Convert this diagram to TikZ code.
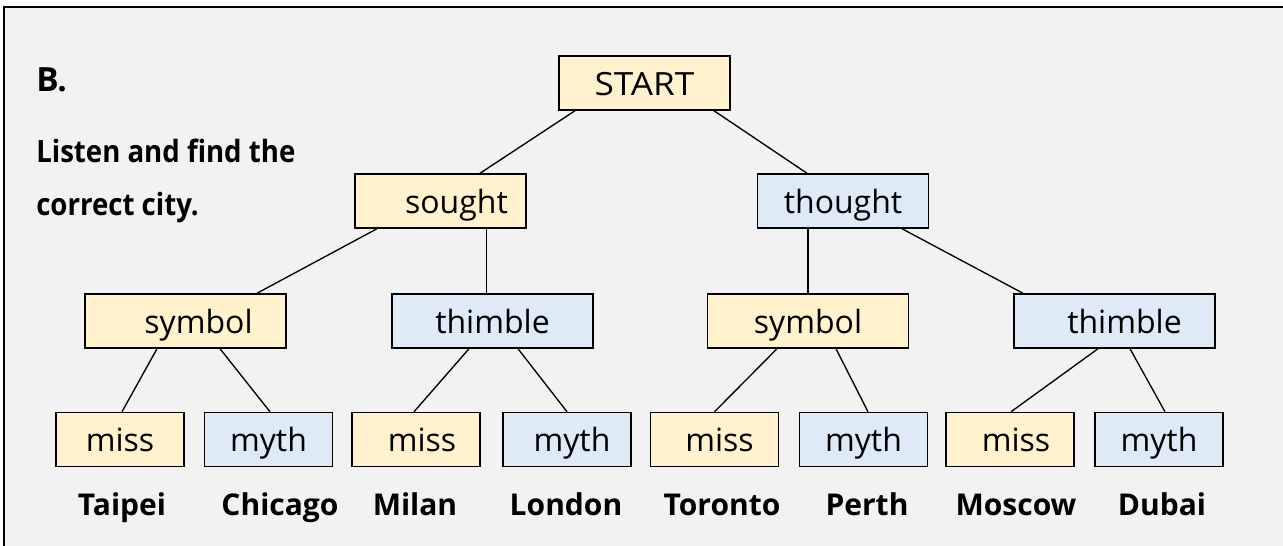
\documentclass[tikz,border=0pt]{standalone}
\usepackage{fontspec}
\setmainfont{Open Sans}
\newfontfamily\titlefont[FakeStretch=0.9]{Open Sans}
\usetikzlibrary{calc}
\definecolor{bg}{HTML}{F2F2F2}
\definecolor{yel}{HTML}{FFF2CC}
\definecolor{blu}{HTML}{DEEBF7}
\begin{document}
\begin{tikzpicture}[x=0.75pt,y=-0.75pt,
  box/.style={draw=black,line width=1.1pt,inner sep=0pt,minimum height=40.5pt,
    text height=20pt,text depth=2pt,font=\fontsize{24}{28}\selectfont},
  bigbox/.style={box,minimum width=128.25pt},
  midbox/.style={box,minimum width=150.75pt},
  leafbox/.style={box,minimum width=96pt},
  yb/.style={fill=yel}, bb/.style={fill=blu},
  city/.style={anchor=base,inner sep=0pt,font=\fontsize{22.5}{27}\selectfont\bfseries},
  title/.style={anchor=base west,inner sep=0pt,font=\fontsize{23}{27}\selectfont\titlefont\bfseries},
  link/.style={line width=1pt}]
\useasboundingbox (0,0) rectangle (1283,546);
\clip (0,0) rectangle (1283,546);
\fill[white] (0,0) rectangle (1283,546);
\fill[bg] (3.8,6.7) rectangle (1290,560);
\draw[line width=1.6pt] (3.8,560) -- (3.8,6.7) -- (1290,6.7);

% title
\node[title,font=\fontsize{25}{29}\selectfont\bfseries] (b) at (36,91) {B.};
\node[title] (l1) at (36,162) {Listen and find the};
\node[title] (l2) at (36,215) {correct city.};

% tree boxes
\node[bigbox,yb] (start) at (644.5,83) {\addfontfeature{FakeStretch=1.1}START};
\node[bigbox,yb] (sought) at (440.5,201) {\hspace*{24pt}sought};
\node[bigbox,bb] (thought) at (843,201) {thought};
\node[midbox,yb] (symL) at (185.5,321) {\hspace*{19.5pt}symbol};
\node[midbox,bb] (thiL) at (492.5,321) {thimble};
\node[midbox,yb] (symR) at (808,321) {symbol};
\node[midbox,bb] (thiR) at (1114.5,321) {\hspace*{15pt}thimble};
\node[leafbox,yb] (miss1) at (120,439.5) {miss};
\node[leafbox,bb] (myth1) at (268.5,439.5) {myth};
\node[leafbox,yb] (miss2) at (416,439.5) {\hspace*{9pt}miss};
\node[leafbox,bb] (myth2) at (567,439.5) {\hspace*{7.5pt}myth};
\node[leafbox,yb] (miss3) at (714.5,439.5) {\hspace*{7.5pt}miss};
\node[leafbox,bb] (myth3) at (863.5,439.5) {myth};
\node[leafbox,yb] (miss4) at (1010,439.5) {\hspace*{9pt}miss};
\node[leafbox,bb] (myth4) at (1159,439.5) {myth};

% cities
\node[city] (c1) at (122,515) {Taipei};
\node[city] (c2) at (280,515) {Chicago};
\node[city] (c3) at (415,515) {Milan};
\node[city] (c4) at (566,515) {London};
\node[city] (c5) at (722,515) {Toronto};
\node[city] (c6) at (867,515) {Perth};
\node[city] (c7) at (1016,515) {Moscow};
\node[city] (c8) at (1162,515) {Dubai};

% connectors
\draw[link] ($(start.south)+(-69.5,0)$) -- ($(sought.north)+(39.5,0)$);
\draw[link] ($(start.south)+(69.5,0)$) -- ($(thought.north)+(-36,0)$);
\draw[link] ($(sought.south)+(-63.5,0)$) -- ($(symL.north)+(71.5,0)$);
\draw[link] ($(sought.south)+(46,0)$) -- ($(thiL.north)+(-6,0)$);
\draw[link] ($(thought.south)+(-35,0)$) -- ($(symR.north)+(0,0)$);
\draw[link] ($(thought.south)+(59,0)$) -- ($(thiR.north)+(-91.5,0)$);
\draw[link] ($(symL.south)+(-28.5,0)$) -- ($(miss1.north)+(2,0)$);
\draw[link] ($(symL.south)+(34.5,0)$) -- ($(myth1.north)+(1.5,0)$);
\draw[link] ($(thiL.south)+(-23.5,0)$) -- ($(miss2.north)+(-2,0)$);
\draw[link] ($(thiL.south)+(25.5,0)$) -- ($(myth2.north)+(0,0)$);
\draw[link] ($(symR.south)+(-31,0)$) -- ($(miss3.north)+(0,0)$);
\draw[link] ($(symR.south)+(28,0)$) -- ($(myth3.north)+(4.5,0)$);
\draw[link] ($(thiR.south)+(-16.5,0)$) -- ($(miss4.north)+(1,0)$);
\draw[link] ($(thiR.south)+(15.5,0)$) -- ($(myth4.north)+(6,0)$);
\end{tikzpicture}
\end{document}
